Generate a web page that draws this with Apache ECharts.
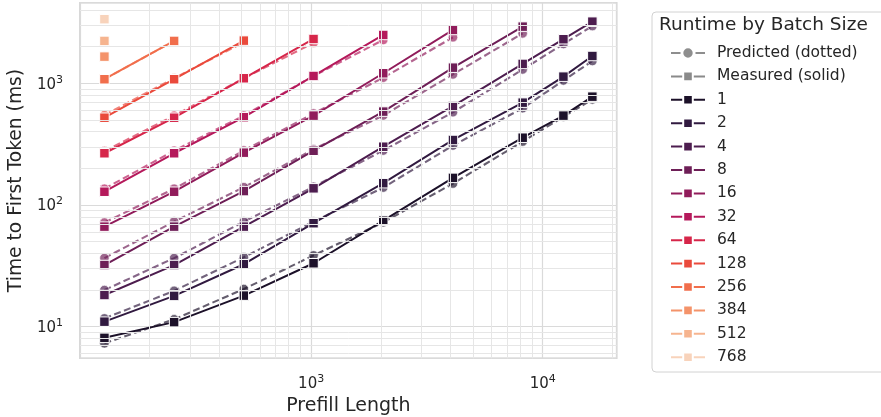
<!DOCTYPE html>
<html><head><meta charset="utf-8">
<script src="https://cdn.jsdelivr.net/npm/echarts@6/dist/echarts.min.js"></script>
<style>html,body{margin:0;padding:0;background:#fff}#c{width:881px;height:417px}</style>
</head><body><div id="c"></div>
<script>
// ---- data ----
const prefillLengths = [128, 256, 512, 1024, 2048, 4096, 8192, 12288, 16384];
const batchSizes = ['1', '2', '4', '8', '16', '32', '64', '128', '256', '384', '512', '768'];

const measured_b1   = [8.1, 10.9, 18.0, 33.2, 74.3, 167, 357, 542, 776];
const measured_b2   = [11.0, 17.9, 32.6, 70.8, 151, 342, 693, 1133, 1675];
const measured_b4   = [18.2, 32.1, 66.4, 137, 301, 650, 1442, 2300, 3206];
const measured_b8   = [32.1, 66.4, 130, 279, 585, 1343, 2919];
const measured_b16  = [66.4, 128.5, 269, 542, 1208, 2741];
const measured_b32  = [128.5, 266, 526, 1148, 2493];
const measured_b64  = [266, 521, 1099, 2311];
const measured_b128 = [521, 1079, 2240];
const measured_b256 = [1079, 2228];
const measured_b384 = [1655];
const measured_b512 = [2228];
const measured_b768 = [3360];

const predicted_b1   = [7.3, 11.5, 20.4, 38.5, 72, 150, 332, 531, 737];
const predicted_b2   = [11.7, 19.7, 37.2, 73, 139, 308, 624, 1054, 1524];
const predicted_b4   = [20.0, 36.6, 73, 141, 280, 578, 1298, 2104, 2950];
const predicted_b8   = [36.6, 73, 140, 287, 544, 1182, 2569];
const predicted_b16  = [71.7, 136, 280, 564, 1111, 2385];
const predicted_b32  = [136, 279, 542, 1148, 2269];
const predicted_b64  = [277, 542, 1099, 2149];
const predicted_b128 = [547, 1100, 2173];
const predicted_b256 = [1079, 2228];
const predicted_b384 = [1655];
const predicted_b512 = [2228];
const predicted_b768 = [3360];

const xTickValues = [1000, 10000];
const xTickExponents = ['3', '4'];
const yTickValues = [10, 100, 1000];
const yTickExponents = ['1', '2', '3'];

// ---- styling ----
const palette = ['#1c1129', '#311a40', '#4d1d4f', '#6e1f57', '#911c5b', '#b5195b',
                 '#d6264a', '#ea4a3c', '#f16e4c', '#f4936a', '#f6b48f', '#f8d3bb'];
const FONT = 'DejaVu Sans';
const TXT = '#262626';

const measuredAll = [measured_b1, measured_b2, measured_b4, measured_b8, measured_b16, measured_b32,
  measured_b64, measured_b128, measured_b256, measured_b384, measured_b512, measured_b768];
const predictedAll = [predicted_b1, predicted_b2, predicted_b4, predicted_b8, predicted_b16, predicted_b32,
  predicted_b64, predicted_b128, predicted_b256, predicted_b384, predicted_b512, predicted_b768];

function pairs(arr) { return arr.map((v, j) => [prefillLengths[j], v]); }
function tickFmt(values, exps) {
  return function (v) {
    for (let i = 0; i < values.length; i++) {
      if (Math.abs(Math.log10(v) - Math.log10(values[i])) < 1e-6) return '{b|10}{s|' + exps[i] + '}';
    }
    return '';
  };
}
const supRich = {
  b: { fontFamily: FONT, fontSize: 15, color: TXT, verticalAlign: 'bottom', lineHeight: 18 },
  s: { fontFamily: FONT, fontSize: 11, color: TXT, verticalAlign: 'bottom', lineHeight: 13, padding: [0, 0, 7, 0] }
};

// minor grid positions (2..9 x decade)
const minorX = [], minorY = [];
for (let d = 100; d <= 10000; d *= 10) for (let k = 2; k <= 9; k++) minorX.push({ xAxis: k * d });
for (let d = 1; d <= 1000; d *= 10) for (let k = 2; k <= 9; k++) minorY.push({ yAxis: k * d });

// legend icon for the predicted entry: short dash, circle, short dash (34 x 12 box)
const predictedIcon = 'path://M0,0M34,12M0,5h9.5v2h-9.5zM24.5,5h9.5v2h-9.5zM12.3,6a4.7,4.7 0 1,0 9.4,0a4.7,4.7 0 1,0 -9.4,0z';

const series = [];
series.push({
  type: 'line', name: '__grid', data: [], silent: true, z: 0,
  markLine: {
    silent: true, symbol: 'none', label: { show: false }, animation: false,
    lineStyle: { color: '#e6e6e6', width: 1, type: 'solid' },
    emphasis: { disabled: true },
    data: minorX.concat(minorY)
  }
});
series.push({
  type: 'line', name: 'Predicted (dotted)', data: [], color: '#8e8e8e',
  symbol: 'circle', symbolSize: 9, legendIcon: predictedIcon,
  lineStyle: { type: 'solid', width: 2 },
  itemStyle: { borderColor: '#fff', borderWidth: 0 }
});
series.push({
  type: 'line', name: 'Measured (solid)', data: [], color: '#8a8a8a',
  symbol: 'rect', symbolSize: 9,
  lineStyle: { type: 'solid', width: 2 },
  itemStyle: { borderColor: '#fff', borderWidth: 1 }
});
batchSizes.forEach((b, i) => {
  series.push({
    type: 'line', name: b + ' predicted', data: pairs(predictedAll[i]), color: palette[i],
    symbol: 'circle', symbolSize: 9.5, showAllSymbol: true, z: 2,
    lineStyle: { type: [7, 3.5], width: 2.1, opacity: 0.68 },
    itemStyle: { borderColor: '#fff', borderWidth: 1, opacity: 0.68 },
    emphasis: { disabled: true }
  });
});
batchSizes.forEach((b, i) => {
  series.push({
    type: 'line', name: b, data: pairs(measuredAll[i]), color: palette[i],
    symbol: 'rect', symbolSize: 9.5, showAllSymbol: true, z: 3,
    lineStyle: { type: 'solid', width: 2 },
    itemStyle: { borderColor: '#fff', borderWidth: 1 },
    emphasis: { disabled: true }
  });
});

const legendData = [
  { name: 'Predicted (dotted)', icon: predictedIcon },
  { name: 'Measured (solid)' }
].concat(batchSizes.map(b => ({ name: b })));

const chart = echarts.init(document.getElementById('c'), null, { renderer: 'canvas' });
chart.setOption({
  animation: false,
  backgroundColor: '#fff',
  textStyle: { fontFamily: FONT },
  grid: { left: 80, right: 264.3, top: 2.7, bottom: 58.7, show: true, borderColor: '#cccccc', borderWidth: 1.5,
          containLabel: false, outerBoundsMode: 'none' },
  title: {
    text: 'Runtime by Batch Size', left: 659, top: 16, padding: 0,
    textStyle: { fontFamily: FONT, fontSize: 18.5, fontWeight: 'normal', color: TXT }
  },
  graphic: [{
    type: 'rect', z: -10, silent: true,
    shape: { x: 652, y: 12, width: 260, height: 360, r: 4 },
    style: { fill: '#ffffff', stroke: '#d2d2d2', lineWidth: 1 }
  }],
  legend: {
    orient: 'vertical', left: 670, top: 45, padding: 0,
    itemWidth: 34, itemHeight: 12, itemGap: 7.4,
    data: legendData,
    textStyle: { fontFamily: FONT, fontSize: 15.5, color: TXT, lineHeight: 16, padding: [0, 0, 0, 7] },
    selectedMode: false
  },
  xAxis: {
    type: 'log', logBase: 10, min: 100.4, max: 20870,
    name: 'Prefill Length', nameLocation: 'middle', nameGap: 36,
    nameTextStyle: { fontFamily: FONT, fontSize: 19, color: TXT },
    axisLine: { show: false }, axisTick: { show: false },
    axisLabel: { formatter: tickFmt(xTickValues, xTickExponents), rich: supRich, margin: 15, showMinLabel: false, showMaxLabel: false },
    splitLine: { show: true, lineStyle: { color: '#dadada', width: 1.2 } },
    minorTick: { show: false }, minorSplitLine: { show: false }
  },
  yAxis: {
    type: 'log', logBase: 10, min: 5.5, max: 4590,
    name: 'Time to First Token (ms)', nameLocation: 'middle', nameGap: 54,
    nameTextStyle: { fontFamily: FONT, fontSize: 18.7, color: TXT },
    axisLine: { show: false }, axisTick: { show: false },
    axisLabel: { formatter: tickFmt(yTickValues, yTickExponents), rich: supRich, margin: 17, showMinLabel: false, showMaxLabel: false },
    splitLine: { show: true, lineStyle: { color: '#dadada', width: 1.2 } },
    minorTick: { show: false }, minorSplitLine: { show: false }
  },
  series: series
});
</script>
</body></html>
